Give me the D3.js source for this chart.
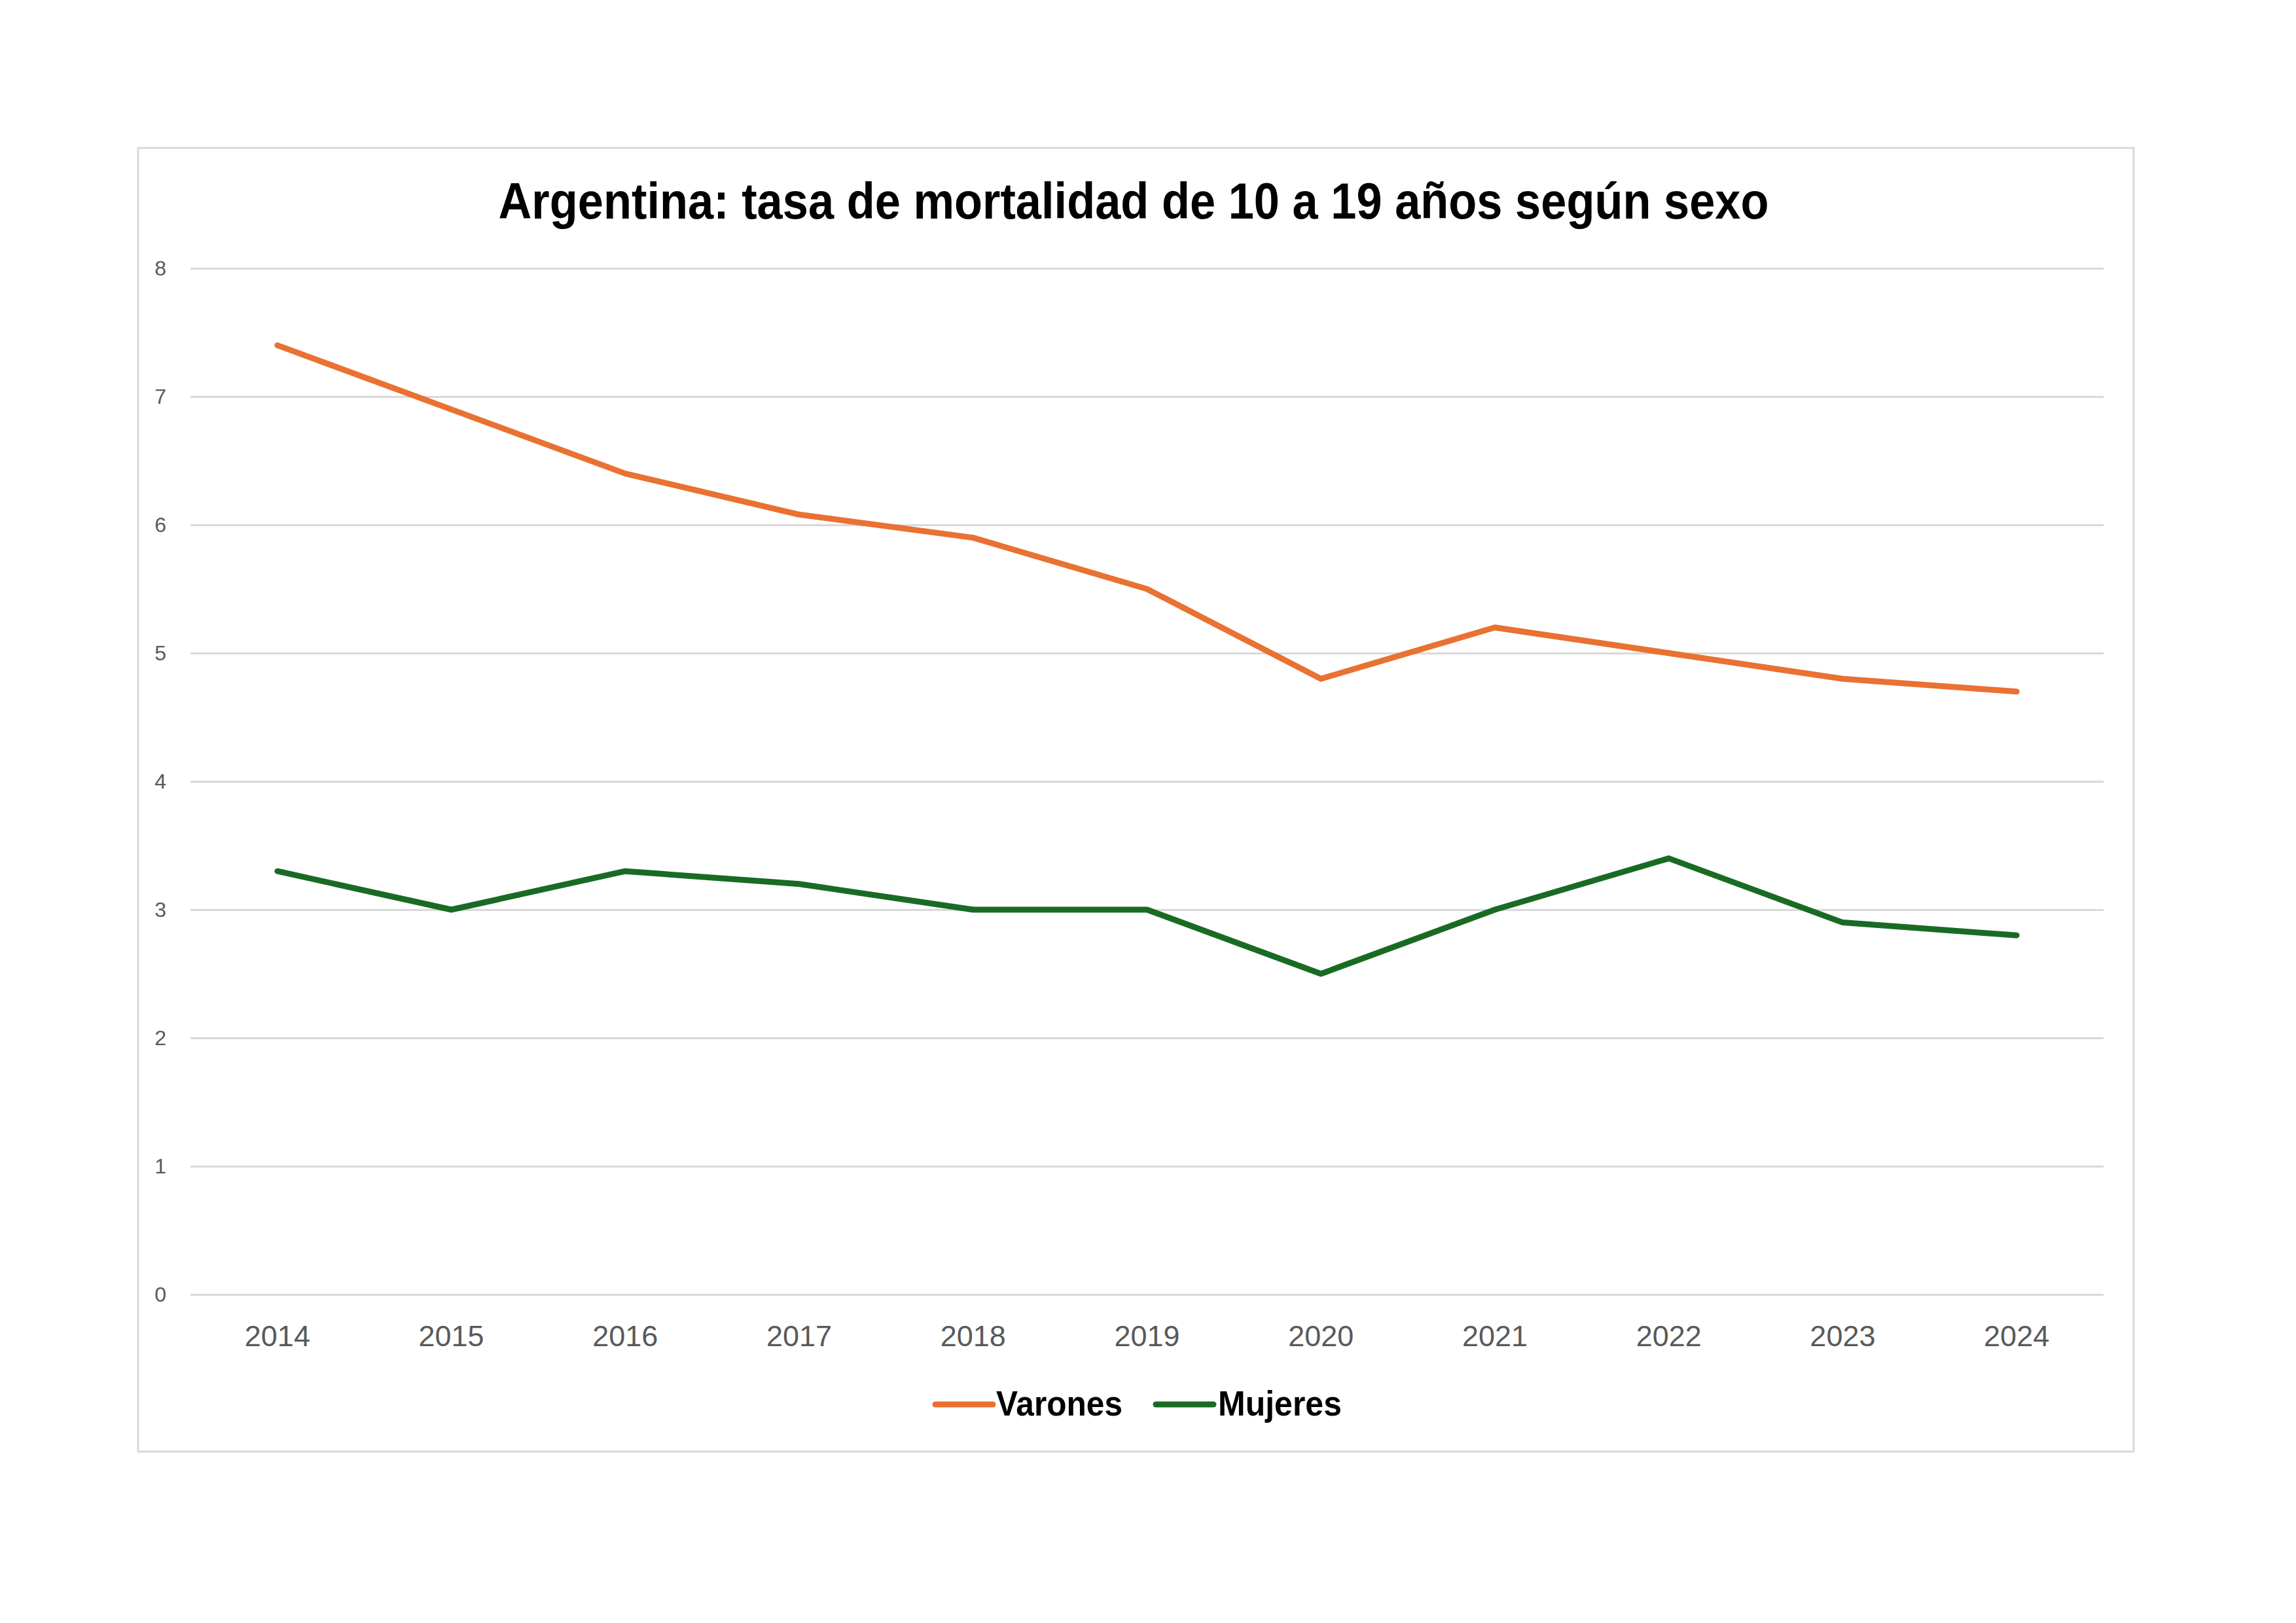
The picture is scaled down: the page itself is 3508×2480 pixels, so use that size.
<!DOCTYPE html>
<html>
<head>
<meta charset="utf-8">
<script src="https://cdn.jsdelivr.net/npm/d3@7"></script>
<style>
  html, body { margin: 0; padding: 0; background: #ffffff; }
  svg { display: block; }
</style>
</head>
<body>
<script>
// ---- data ----
const years = ["2014","2015","2016","2017","2018","2019","2020","2021","2022","2023","2024"];
const varones = [7.4, 6.9, 6.4, 6.08, 5.9, 5.5, 4.8, 5.2, 5.0, 4.8, 4.7];
const mujeres = [3.3, 3.0, 3.3, 3.2, 3.0, 3.0, 2.5, 3.0, 3.4, 2.9, 2.8];
const seriesNames = ["Varones", "Mujeres"];
const seriesColors = ["#E97132", "#196B24"];
const yTicks = [0, 1, 2, 3, 4, 5, 6, 7, 8];
const title = "Argentina: tasa de mortalidad de 10 a 19 años según sexo";

// ---- layout ----
const W = 3508, H = 2480;
const box = { x: 211, y: 226, w: 3049, h: 1992 };
const plot = { left: 291, right: 3214, top: 410, bottom: 1978 };

const svg = d3.select("body").append("svg")
  .attr("width", W).attr("height", H)
  .attr("viewBox", `0 0 ${W} ${H}`);

svg.append("rect").attr("width", W).attr("height", H).attr("fill", "#ffffff");

svg.append("rect")
  .attr("x", box.x).attr("y", box.y).attr("width", box.w).attr("height", box.h)
  .attr("fill", "#ffffff").attr("stroke", "#d9d9d9").attr("stroke-width", 3);

const x = d3.scaleBand().domain(years).range([plot.left, plot.right]).padding(0);
const y = d3.scaleLinear().domain([0, 8]).range([plot.bottom, plot.top]);

// y axis with gridlines
const yAxis = svg.append("g")
  .attr("transform", `translate(${plot.left},0)`)
  .call(d3.axisLeft(y).tickValues(yTicks).tickFormat(d3.format("d"))
    .tickSize(-(plot.right - plot.left)).tickPadding(37));
yAxis.select(".domain").remove();
yAxis.selectAll(".tick line").attr("stroke", "#d9d9d9").attr("stroke-width", 3);
yAxis.selectAll(".tick text")
  .attr("fill", "#595959")
  .style("font-family", "'Liberation Sans', Arial, sans-serif")
  .style("font-size", "32px");

// x axis labels
const xAxis = svg.append("g")
  .attr("transform", `translate(0,${plot.bottom})`)
  .call(d3.axisBottom(x).tickSize(0).tickPadding(47));
xAxis.select(".domain").remove();
xAxis.selectAll(".tick text")
  .attr("fill", "#595959")
  .style("font-family", "'Liberation Sans', Arial, sans-serif")
  .style("font-size", "45px");

// lines
const series = [varones, mujeres];
const line = d3.line()
  .x((d, i) => x(years[i]) + x.bandwidth() / 2)
  .y(d => y(d));

svg.append("g").selectAll("path")
  .data(series)
  .join("path")
  .attr("d", d => line(d))
  .attr("fill", "none")
  .attr("stroke", (d, i) => seriesColors[i])
  .attr("stroke-width", 9)
  .attr("stroke-linecap", "round")
  .attr("stroke-linejoin", "round");

// title
svg.append("text")
  .attr("x", 1732).attr("y", 334)
  .attr("text-anchor", "middle")
  .attr("fill", "#000000")
  .attr("textLength", 1941)
  .attr("lengthAdjust", "spacingAndGlyphs")
  .style("font-family", "'Liberation Sans Narrow', 'Liberation Sans', Arial, sans-serif")
  .style("font-weight", "bold")
  .style("font-size", "77px")
  .text(title);

// legend
const legendItems = [
  { lx: 1429, tx: 1522, tl: 193 },
  { lx: 1766, tx: 1861, tl: 189 }
];
const lg = svg.append("g");
seriesNames.forEach((name, i) => {
  const it = legendItems[i];
  lg.append("line")
    .attr("x1", it.lx).attr("x2", it.lx + 88)
    .attr("y1", 2146).attr("y2", 2146)
    .attr("stroke", seriesColors[i]).attr("stroke-width", 9)
    .attr("stroke-linecap", "round");
  lg.append("text")
    .attr("x", it.tx).attr("y", 2163)
    .attr("fill", "#000000")
    .attr("textLength", it.tl)
    .attr("lengthAdjust", "spacingAndGlyphs")
    .style("font-family", "'Liberation Sans Narrow', 'Liberation Sans', Arial, sans-serif")
    .style("font-weight", "bold")
    .style("font-size", "53px")
    .text(name);
});
</script>
</body>
</html>
